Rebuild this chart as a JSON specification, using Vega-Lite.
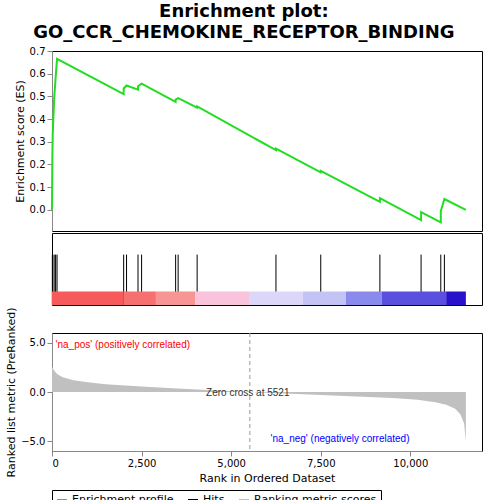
{
  "$schema": "https://vega.github.io/schema/vega-lite/v6.json",
  "padding": {"left": 5, "right": 12, "top": 2, "bottom": 2},
  "title": {"text": ["Enrichment plot:", "GO_CCR_CHEMOKINE_RECEPTOR_BINDING"], "fontSize": 18, "font": "DejaVu Sans", "fontWeight": "bold", "anchor": "middle", "offset": 4, "lineHeight": 21},
  "spacing": 0,
  "config": {"view": {"stroke": "black"}, "axis": {"labelFont": "DejaVu Sans", "titleFont": "DejaVu Sans", "labelFontSize": 10, "titleFontSize": 11, "titleFontWeight": "normal", "grid": false}},
  "datasets": {
    "es": [
      {"r": 0, "es": 0}, {"r": 10, "es": 0.23}, {"r": 20, "es": 0.33}, {"r": 60, "es": 0.49}, {"r": 100, "es": 0.58}, {"r": 140, "es": 0.665},
      {"r": 2000, "es": 0.51}, {"r": 2001, "es": 0.535}, {"r": 2080, "es": 0.548}, {"r": 2400, "es": 0.53}, {"r": 2401, "es": 0.545}, {"r": 2500, "es": 0.556},
      {"r": 3450, "es": 0.476}, {"r": 3451, "es": 0.486}, {"r": 3520, "es": 0.492}, {"r": 4050, "es": 0.45}, {"r": 4051, "es": 0.456},
      {"r": 6250, "es": 0.263}, {"r": 6251, "es": 0.27}, {"r": 7500, "es": 0.165}, {"r": 7501, "es": 0.172},
      {"r": 9150, "es": 0.035}, {"r": 9151, "es": 0.052}, {"r": 10300, "es": -0.045}, {"r": 10301, "es": -0.01},
      {"r": 10850, "es": -0.055}, {"r": 10851, "es": -0.005}, {"r": 10950, "es": 0.048}, {"r": 11550, "es": 0}
    ],
    "hits": [{"r": 10}, {"r": 20}, {"r": 60}, {"r": 100}, {"r": 140}, {"r": 2000}, {"r": 2080}, {"r": 2400}, {"r": 2500}, {"r": 3450}, {"r": 3520}, {"r": 4050}, {"r": 6250}, {"r": 7500}, {"r": 9150}, {"r": 10300}, {"r": 10850}, {"r": 10950}],
    "bands": [
      {"a": 0, "b": 2000, "c": "#f65a5a"}, {"a": 2000, "b": 2900, "c": "#f77070"}, {"a": 2900, "b": 4000, "c": "#f79494"},
      {"a": 4000, "b": 5500, "c": "#fac3dc"}, {"a": 5500, "b": 7000, "c": "#dcd6f8"}, {"a": 7000, "b": 8200, "c": "#c3c3f5"},
      {"a": 8200, "b": 9200, "c": "#8a8aec"}, {"a": 9200, "b": 11000, "c": "#5a50e0"}, {"a": 11000, "b": 11550, "c": "#2a12cc"}
    ],
    "metric": [
      {"r": 0, "m": 2.6}, {"r": 50, "m": 2.2}, {"r": 150, "m": 1.8}, {"r": 300, "m": 1.5}, {"r": 600, "m": 1.2}, {"r": 1000, "m": 1.0},
      {"r": 1500, "m": 0.8}, {"r": 2500, "m": 0.55}, {"r": 3500, "m": 0.35}, {"r": 4500, "m": 0.18}, {"r": 5521, "m": 0},
      {"r": 6500, "m": -0.15}, {"r": 7500, "m": -0.3}, {"r": 8500, "m": -0.45}, {"r": 9500, "m": -0.6}, {"r": 10200, "m": -0.8},
      {"r": 10700, "m": -1.05}, {"r": 11000, "m": -1.3}, {"r": 11250, "m": -1.7}, {"r": 11400, "m": -2.3}, {"r": 11500, "m": -3.2}, {"r": 11550, "m": -5}
    ],
    "legend": [{"k": "Enrichment profile"}, {"k": "Hits"}, {"k": "Ranking metric scores"}]
  },
  "vconcat": [
    {
      "width": 430, "height": 180,
      "layer": [
        {"data": {"name": "es"}, "mark": {"type": "line", "color": "#22dd22", "strokeWidth": 2},
         "encoding": {"x": {"field": "r", "type": "quantitative", "scale": {"domain": [0, 12000]}, "axis": null},
                      "y": {"field": "es", "type": "quantitative", "scale": {"domain": [-0.093, 0.7]}, "axis": {"title": "Enrichment score (ES)", "values": [0, 0.1, 0.2, 0.3, 0.4, 0.5, 0.6, 0.7], "format": ".1f"}}}},
        {"data": {"name": "legend"}, "mark": {"type": "line", "opacity": 0},
         "encoding": {"color": {"field": "k", "type": "nominal", "scale": {"domain": ["Enrichment profile", "Hits", "Ranking metric scores"], "range": ["#22dd22", "black", "#c0c0c0"]},
                      "legend": {"orient": "bottom", "direction": "horizontal", "title": null, "symbolType": "stroke", "symbolStrokeWidth": 2, "labelFontSize": 11, "labelFont": "DejaVu Sans", "padding": 4, "strokeColor": "black", "offset": 6}}}}
      ]
    },
    {
      "width": 430, "height": 72,
      "layer": [
        {"data": {"name": "hits"}, "mark": {"type": "rule", "color": "black"},
         "encoding": {"x": {"field": "r", "type": "quantitative", "scale": {"domain": [0, 12000]}, "axis": null}, "y": {"datum": 0, "scale": {"domain": [0, 72]}, "axis": null}, "y2": {"datum": 56}}},
        {"data": {"name": "bands"}, "mark": {"type": "rect"},
         "encoding": {"x": {"field": "a", "type": "quantitative"}, "x2": {"field": "b"}, "y": {"datum": 0}, "y2": {"datum": 15}, "color": {"field": "c", "type": "nominal", "scale": null, "legend": null}}}
      ]
    },
    {
      "width": 430, "height": 118,
      "layer": [
        {"data": {"name": "metric"}, "mark": {"type": "area", "color": "#c0c0c0"},
         "encoding": {"x": {"field": "r", "type": "quantitative", "scale": {"domain": [0, 12000]}, "axis": {"title": "Rank in Ordered Dataset", "values": [0, 2500, 5000, 7500, 10000], "format": ",.0f"}},
                      "y": {"field": "m", "type": "quantitative", "scale": {"domain": [-5.5, 5.5]}, "axis": {"title": "Ranked list metric (PreRanked)", "values": [-5, -2.5, 0, 2.5, 5], "format": ".1f"}}}},
        {"data": {"values": [{"r": 5521}]}, "mark": {"type": "rule", "color": "#999", "strokeDash": [4, 3]},
         "encoding": {"x": {"field": "r", "type": "quantitative"}}},
        {"data": {"values": [{"r": 100, "m": 4.8, "t": "'na_pos' (positively correlated)"}]}, "mark": {"type": "text", "color": "red", "align": "left", "fontSize": 10},
         "encoding": {"x": {"field": "r", "type": "quantitative"}, "y": {"field": "m", "type": "quantitative"}, "text": {"field": "t"}}},
        {"data": {"values": [{"r": 4300, "m": -0.1, "t": "Zero cross at 5521"}]}, "mark": {"type": "text", "color": "#333", "align": "left", "fontSize": 10},
         "encoding": {"x": {"field": "r", "type": "quantitative"}, "y": {"field": "m", "type": "quantitative"}, "text": {"field": "t"}}},
        {"data": {"values": [{"r": 6100, "m": -4.8, "t": "'na_neg' (negatively correlated)"}]}, "mark": {"type": "text", "color": "blue", "align": "left", "fontSize": 10},
         "encoding": {"x": {"field": "r", "type": "quantitative"}, "y": {"field": "m", "type": "quantitative"}, "text": {"field": "t"}}}
      ]
    }
  ]
}
